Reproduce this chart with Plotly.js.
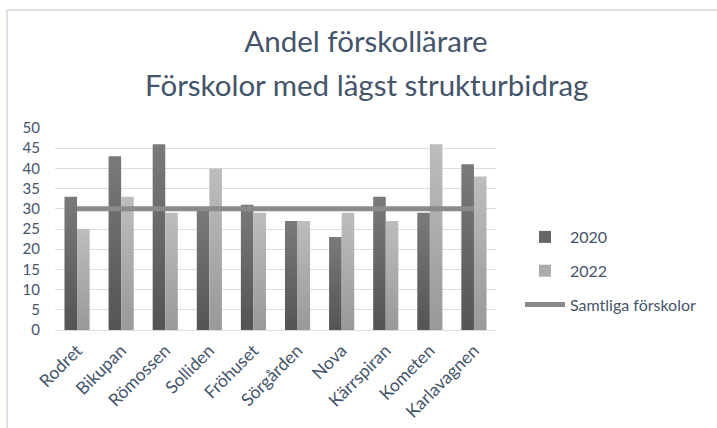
<!DOCTYPE html>
<html>
<head>
<meta charset="utf-8">
<script src="https://cdn.plot.ly/plotly-3.0.1.min.js"></script>
<style>
html,body{margin:0;padding:0;background:#fff;overflow:hidden;}
#frame{position:absolute;left:6px;top:9px;width:900px;height:600px;border-left:2px solid #dde1e8;border-top:2px solid #dde1e8;}
#chart{position:absolute;left:0;top:0;width:717px;height:428px;}
</style>
</head>
<body>
<div id="frame"></div>
<div id="chart"></div>
<script>
const categories = ["Rodret","Bikupan","Römossen","Solliden","Fröhuset","Sörgården","Nova","Kärrspiran","Kometen","Karlavagnen"];
const values2020 = [33,43,46,30,31,27,23,33,29,41];
const values2022 = [25,33,29,40,29,27,29,27,46,38];
const allSchools = [30,30,30,30,30,30,30,30,30,30];
const seriesNames = ["2020","2022","Samtliga förskolor"];
const titleLines = ["Andel förskollärare","Förskolor med lägst strukturbidrag"];
const yTicks = [0,5,10,15,20,25,30,35,40,45,50];

const txt = "#44546a";
const font = "Lato, 'Open Sans', sans-serif";

const traces = [
  {type:"bar", name:seriesNames[0], x:categories, y:values2020, marker:{color:"#666666"}, legendgroup:"a", hoverinfo:"skip"},
  {type:"bar", name:seriesNames[1], x:categories, y:values2022, marker:{color:"#acacac"}, legendgroup:"b", hoverinfo:"skip"},
  {type:"scatter", mode:"lines", name:seriesNames[2], x:categories, y:allSchools, line:{color:"#8a8a8a", width:5}, legendgroup:"c", hoverinfo:"skip"}
];

const plotTop = 128, plotBottom = 330, plotLeft = 55, plotRight = 496;
const titleCenter = 366;
const layout = {
  width:717, height:428,
  paper_bgcolor:"rgba(0,0,0,0)", plot_bgcolor:"rgba(0,0,0,0)",
  margin:{l:plotLeft, r:717-plotRight, t:plotTop, b:428-plotBottom},
  font:{family:font, color:txt, size:15},
  title:{text:titleLines[0], font:{family:font, size:29.5, color:txt}, x:titleCenter/717, xref:"container", xanchor:"center", y:1-42/428, yref:"container", yanchor:"middle"},
  annotations:[{text:titleLines[1], font:{family:font, size:29.5, color:txt}, showarrow:false, xref:"paper", yref:"paper", x:(titleCenter-plotLeft)/(plotRight-plotLeft), y:(plotBottom-84)/(plotBottom-plotTop), xanchor:"center", yanchor:"middle"}],
  barmode:"group", bargap:0.43, bargroupgap:0,
  xaxis:{type:"category", tickangle:-45, tickfont:{size:17.5, color:txt}, showgrid:false, showline:false, ticks:"", zeroline:false, automargin:false, ticklabelstandoff:6},
  yaxis:{range:[0,50], tickvals:yTicks, ticktext:yTicks.map(String), tickfont:{size:15, color:txt}, showgrid:true, gridcolor:"#d9dde4", gridwidth:1, zeroline:true, zerolinecolor:"#d9dde4", zerolinewidth:1, showline:false, ticks:"", ticklabelstandoff:14, automargin:false, fixedrange:true},
  showlegend:true,
  legend:{x:520/717, xref:"container", y:1-220/428, yref:"container", xanchor:"left", yanchor:"top", traceorder:"grouped", tracegroupgap:10, itemwidth:40, font:{family:font, size:16, color:txt}, bgcolor:"rgba(0,0,0,0)"}
};

Plotly.newPlot("chart", traces, layout, {staticPlot:true, displayModeBar:false}).then(function(gd){
  const svg = gd.querySelector("svg.main-svg");
  const ns = "http://www.w3.org/2000/svg";
  let defs = svg.querySelector("defs");
  function grad(id, top, bot){
    const g = document.createElementNS(ns,"linearGradient");
    g.setAttribute("id",id); g.setAttribute("x1","0"); g.setAttribute("y1","0"); g.setAttribute("x2","0"); g.setAttribute("y2","1");
    [[0,top],[1,bot]].forEach(function(s){
      const st = document.createElementNS(ns,"stop");
      st.setAttribute("offset",s[0]); st.setAttribute("stop-color",s[1]);
      g.appendChild(st);
    });
    defs.appendChild(g);
  }
  grad("gDark","#7a7a7a","#545454");
  grad("gLight","#bdbdbd","#999999");
  const barTraces = gd.querySelectorAll(".barlayer .trace");
  const ids = ["gDark","gLight"];
  barTraces.forEach(function(t,i){
    t.querySelectorAll("path").forEach(function(p){ p.style.fill = "url(#"+ids[i]+")"; });
  });
});
</script>
</body>
</html>
